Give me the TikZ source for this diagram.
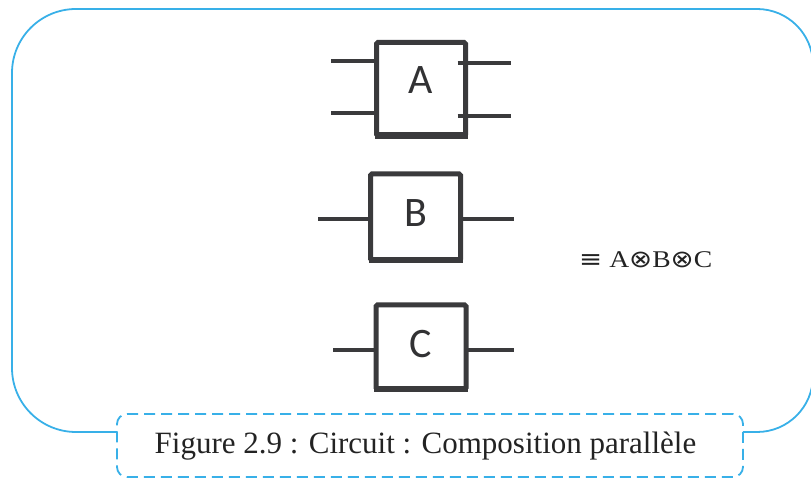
\documentclass[tikz,border=0pt]{standalone}
\usepackage{fontspec}
\setmainfont{Liberation Serif}
\newfontfamily\gatefont{Carlito}
\newfontfamily\opfont{DejaVu Sans}
\begin{document}
\begin{tikzpicture}[x=1pt,y=1pt,
  frameblue/.style={draw={rgb,255:red,56;green,176;blue,232}, line width=1.8pt},
  gate/.style={draw={rgb,255:red,58;green,58;blue,60}, line width=5pt, rounded corners=1.5pt,
    inner sep=0pt, outer sep=0pt, fill=none},
  gatebase/.style={draw={rgb,255:red,58;green,58;blue,60}, line width=6.5pt},
  wire/.style={draw={rgb,255:red,58;green,58;blue,60}, line width=4pt},
  gatelabel/.style={font=\gatefont\fontsize{42}{42}\selectfont, text={rgb,255:red,50;green,50;blue,52}, anchor=base, inner sep=0pt},
  capbox/.style={draw={rgb,255:red,56;green,176;blue,232}, line width=1.8pt,
    dash pattern=on 11pt off 6pt, rounded corners=10pt, inner sep=0pt},
]
\useasboundingbox (0,0) rectangle (811,479);

% outer frame, open at the bottom where the caption sits
\draw[frameblue] (117,47) -- (76,47)
  arc[start angle=270, end angle=180, radius=64] -- (12,406)
  arc[start angle=180, end angle=90, radius=64] -- (757,470)
  arc[start angle=90, end angle=0, radius=56] -- (813,103)
  arc[start angle=0, end angle=-90, radius=56] -- (743,47);

% caption box
\node[capbox, minimum width=626pt, minimum height=63pt] (cap) at (430,33.5) {};
\node[font=\fontsize{31}{31}\selectfont, text={rgb,255:red,35;green,35;blue,35}, anchor=base, inner sep=0pt] (captext) at (425.5,25)
  {Figure 2.9 : Circuit : Composition parallèle};

% gate A (two inputs, two outputs)
\node[gate, minimum width=89pt, minimum height=93pt] (A) at (421,390) {};
\draw[gatebase] ([xshift=-2pt]A.south west) -- ([xshift=2pt]A.south east);
\node[gatelabel] (labA) at (421,385) {A};
\coordinate (a1) at (331,418);
\coordinate (a2) at (331,366);
\coordinate (a3) at (511,416);
\coordinate (a4) at (511,363);
\draw[wire] (a1) -- (a1 -| A.west);
\draw[wire] (a2) -- (a2 -| A.west);
\draw[wire] ([xshift=-8pt]a3 -| A.east) -- (a3);
\draw[wire] ([xshift=-8pt]a4 -| A.east) -- (a4);

% gate B
\node[gate, minimum width=90pt, minimum height=86pt] (B) at (415.5,262) {};
\draw[gatebase] ([xshift=-2pt]B.south west) -- ([xshift=2pt]B.south east);
\node[gatelabel] (labB) at (416,252) {B};
\coordinate (b1) at (318,260);
\coordinate (b2) at (514,260);
\draw[wire] (b1) -- (b1 -| B.west);
\draw[wire] (b2 -| B.east) -- (b2);

% gate C
\node[gate, minimum width=90pt, minimum height=84pt] (C) at (421,132) {};
\draw[gatebase] ([xshift=-2pt]C.south west) -- ([xshift=2pt]C.south east);
\node[gatelabel] (labC) at (421,121) {C};
\coordinate (c1) at (333,129);
\coordinate (c2) at (514,129);
\draw[wire] (c1) -- (c1 -| C.west);
\draw[wire] (c2 -| C.east) -- (c2);

% equivalence with the parallel composition
\node[anchor=base west, inner sep=0pt, xscale=1.15, font=\fontsize{24}{24}\selectfont,
  text={rgb,255:red,35;green,35;blue,35}] (eq) at (579,211)
  {{\opfont ≡} A{\opfont ⊗}B{\opfont ⊗}C};
\end{tikzpicture}
\end{document}
